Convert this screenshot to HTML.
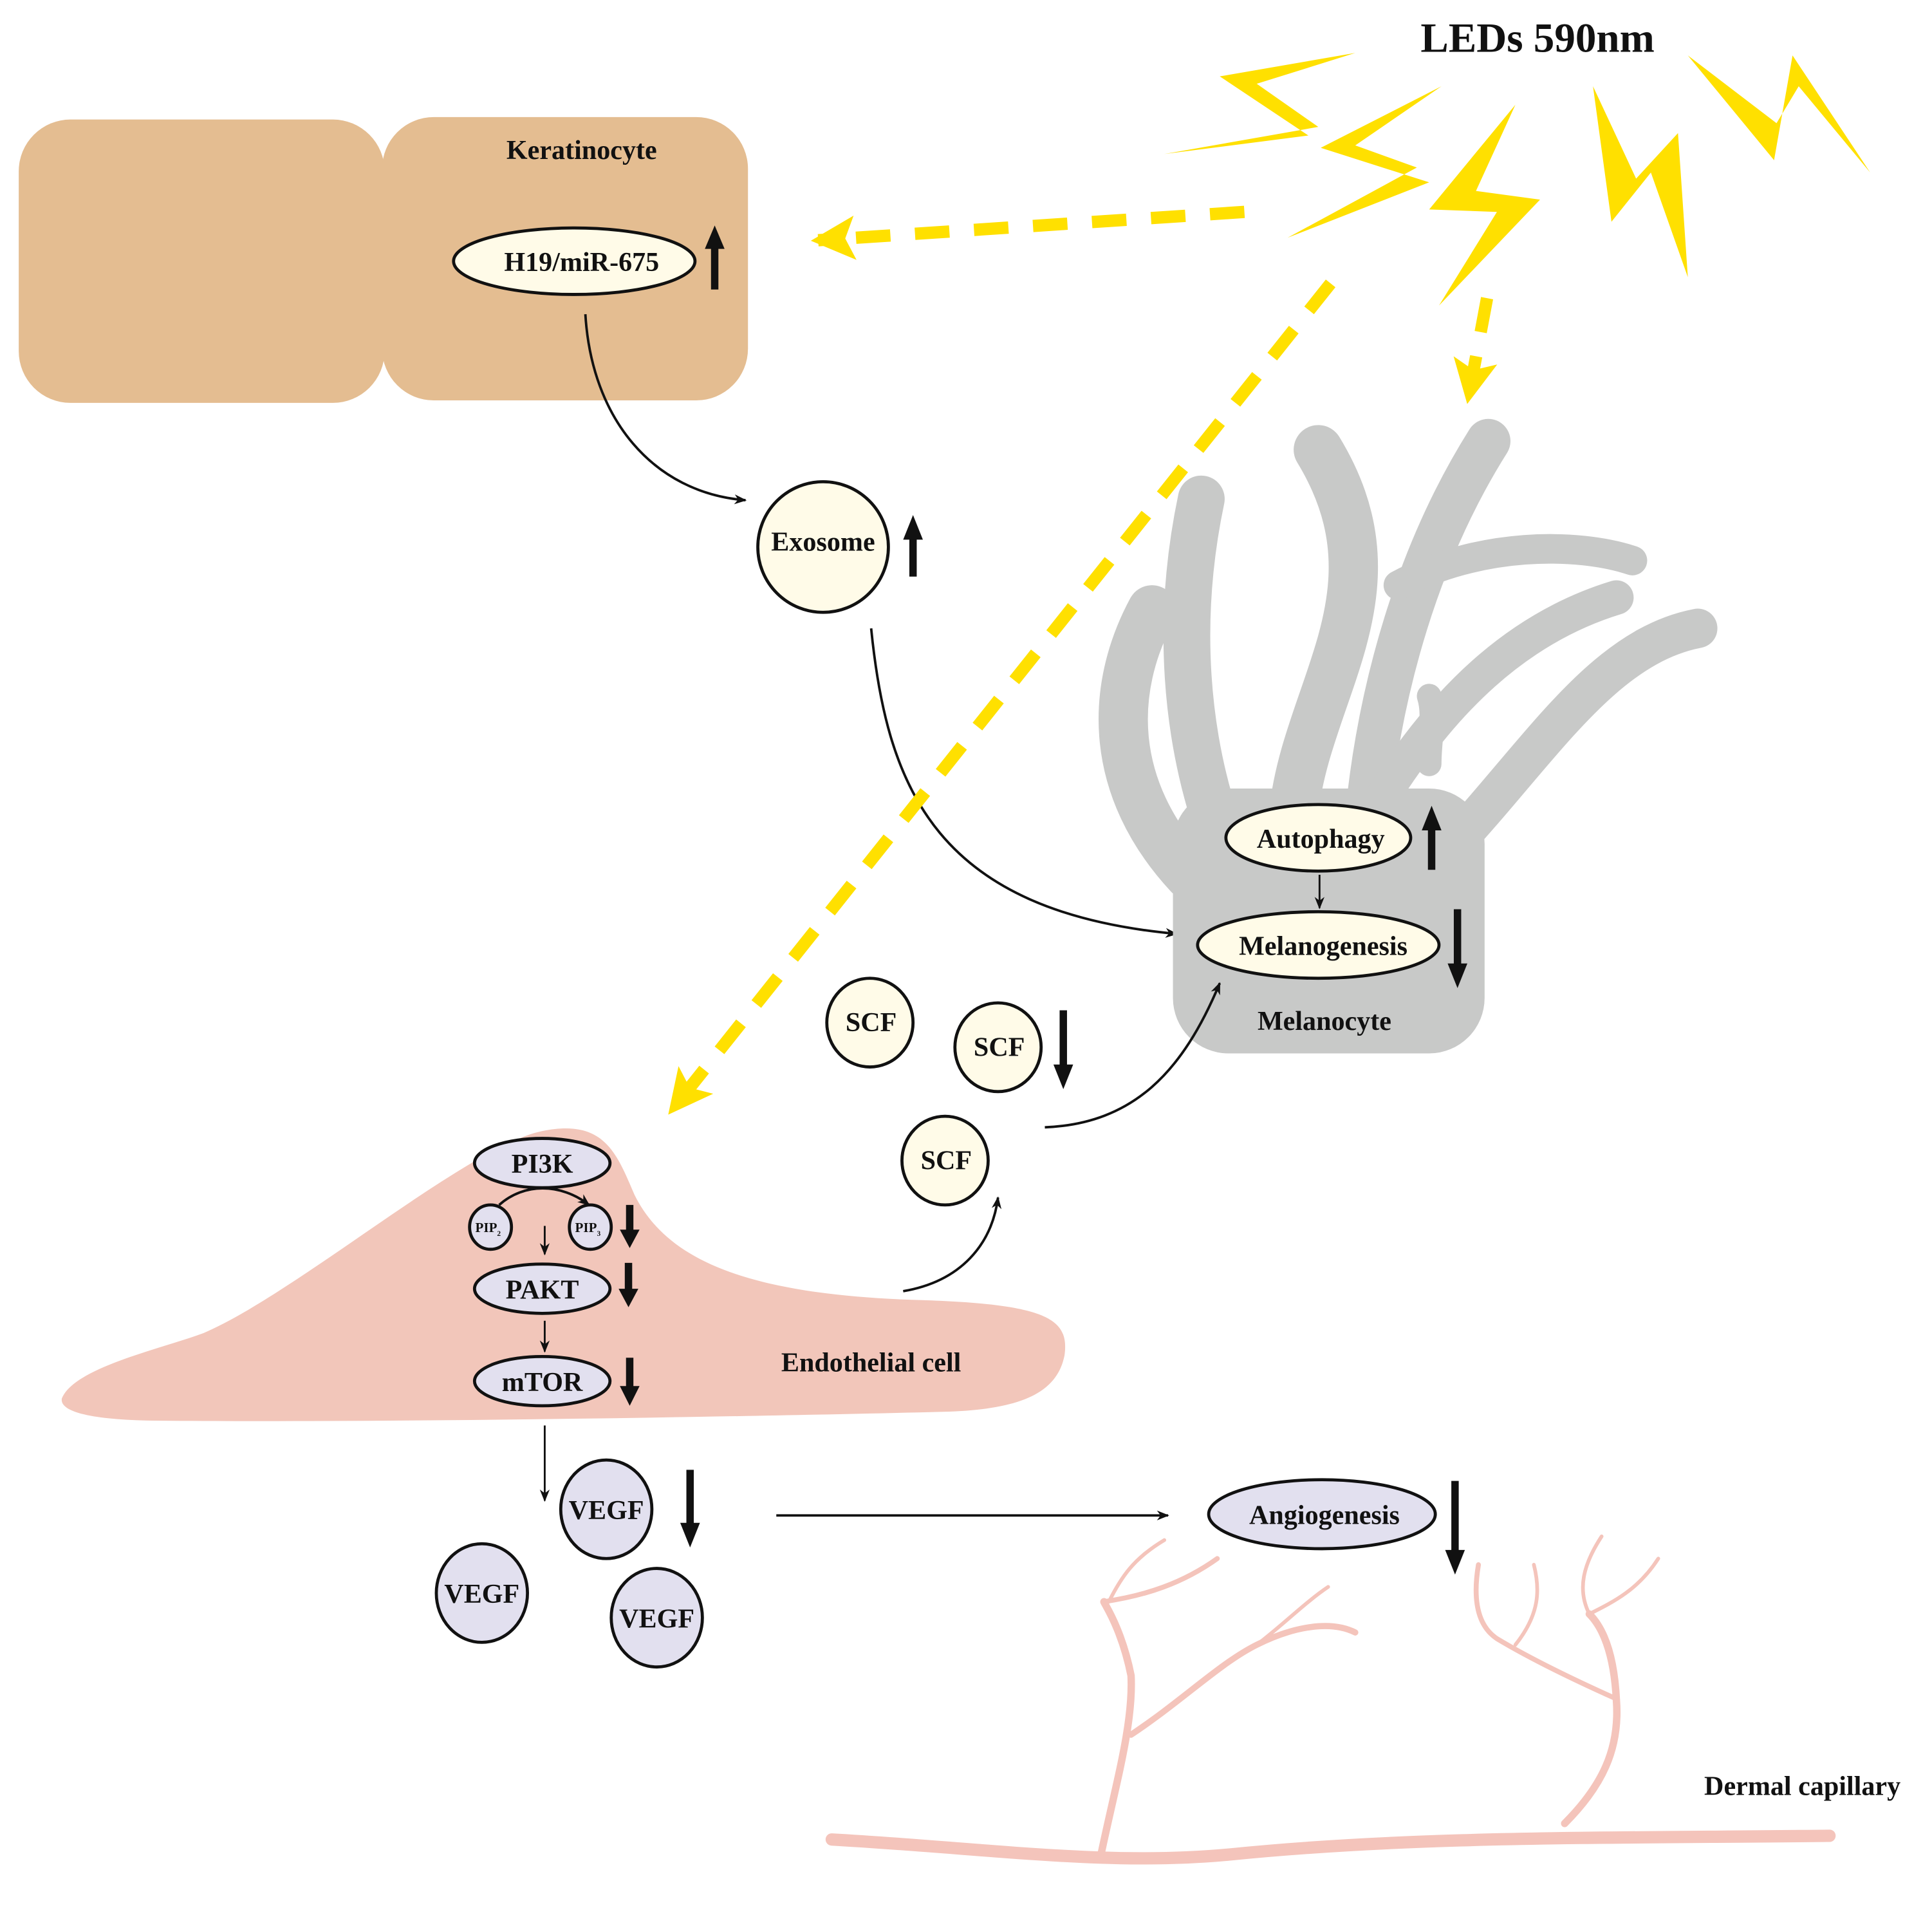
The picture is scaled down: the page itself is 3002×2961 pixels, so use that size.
<!DOCTYPE html>
<html><head><meta charset="utf-8"><style>
html,body{margin:0;padding:0;background:#fff}
svg{display:block}
text{font-family:"Liberation Serif",serif;font-weight:bold;fill:#111}
</style></head><body>
<svg width="3002" height="2961" viewBox="0 0 1568 1547" xmlns="http://www.w3.org/2000/svg">
<defs>
<marker id="a" markerWidth="10" markerHeight="10" refX="9" refY="5" orient="auto" markerUnits="userSpaceOnUse"><path d="M0,1 L10,5 L0,9 L3,5 Z" fill="#111"/></marker>
<marker id="y" markerWidth="36" markerHeight="36" refX="30" refY="18" orient="auto" markerUnits="userSpaceOnUse"><path d="M0,0 L36,18 L0,36 L8,18 Z" fill="#ffe000"/></marker>
</defs>
<rect x="15" y="97" width="297" height="230" rx="42" fill="#e4bd91"/>
<rect x="310" y="95" width="297" height="230" rx="42" fill="#e4bd91"/>
<text x="472" y="129" font-size="22" text-anchor="middle">Keratinocyte</text>
<ellipse cx="466" cy="212" rx="98" ry="27" fill="#fffbe8" stroke="#111" stroke-width="2.5"/>
<text x="472" y="220" font-size="22" text-anchor="middle">H19/miR-675</text>
<path d="M580,235 V200" stroke="#111" stroke-width="6"/><path d="M572,202 L580,183 L588,202 Z" fill="#111"/>
<path d="M475,255 C480,340 530,400 605,406" fill="none" stroke="#111" stroke-width="2" marker-end="url(#a)"/>
<circle cx="668" cy="444" r="53" fill="#fffbe8" stroke="#111" stroke-width="2.5"/>
<text x="668" y="447" font-size="22" text-anchor="middle">Exosome</text>
<path d="M741,468 V436" stroke="#111" stroke-width="6"/><path d="M733,438 L741,418 L749,438 Z" fill="#111"/>
<path d="M707,510 C720,640 760,740 955,758" fill="none" stroke="#111" stroke-width="2" marker-end="url(#a)"/>
<g stroke="#c8c9c8" fill="none" stroke-linecap="round">
<path d="M965,710 C900,640 900,560 935,495" stroke-width="40"/>
<path d="M995,690 C960,600 955,500 975,405" stroke-width="38"/>
<path d="M1050,660 C1060,560 1140,480 1070,365" stroke-width="40"/>
<path d="M1110,660 C1120,560 1150,450 1208,358" stroke-width="36"/>
<path d="M1135,475 C1200,440 1280,440 1325,455" stroke-width="24"/>
<path d="M1120,650 C1170,570 1230,510 1312,485" stroke-width="28"/>
<path d="M1160,620 C1160,600 1165,580 1160,565" stroke-width="20"/>
<path d="M1175,690 C1250,610 1300,525 1378,510" stroke-width="32"/>
</g>
<rect x="952" y="640" width="253" height="215" rx="45" fill="#c8c9c8"/>
<ellipse cx="1070" cy="680" rx="75" ry="27" fill="#fffbe8" stroke="#111" stroke-width="2.5"/>
<text x="1072" y="688" font-size="22" text-anchor="middle">Autophagy</text>
<path d="M1162,706 V672" stroke="#111" stroke-width="6"/><path d="M1154,674 L1162,654 L1170,674 Z" fill="#111"/>
<path d="M1071,710 V737" stroke="#111" stroke-width="1.5" marker-end="url(#a)"/>
<ellipse cx="1070" cy="767" rx="98" ry="27" fill="#fffbe8" stroke="#111" stroke-width="2.5"/>
<text x="1074" y="775" font-size="22" text-anchor="middle">Melanogenesis</text>
<path d="M1183,738 V784" stroke="#111" stroke-width="6"/><path d="M1175,782 L1183,802 L1191,782 Z" fill="#111"/>
<text x="1075" y="836" font-size="22" text-anchor="middle">Melanocyte</text>
<g fill="#fffbe8" stroke="#111" stroke-width="2.5">
<ellipse cx="706" cy="830" rx="35" ry="36"/><ellipse cx="810" cy="850" rx="35" ry="36"/><ellipse cx="767" cy="942" rx="35" ry="36"/></g>
<text x="707" y="837" font-size="22" text-anchor="middle">SCF</text>
<text x="811" y="857" font-size="22" text-anchor="middle">SCF</text>
<text x="768" y="949" font-size="22" text-anchor="middle">SCF</text>
<path d="M863,820 V866" stroke="#111" stroke-width="6"/><path d="M855,864 L863,884 L871,864 Z" fill="#111"/>
<path d="M848,915 C920,912 960,870 990,798" fill="none" stroke="#111" stroke-width="2" marker-end="url(#a)"/>
<path d="M50,1135 C60,1110 130,1095 165,1082 C240,1050 380,930 440,918 C490,908 500,935 515,970 C540,1020 600,1050 740,1055 C850,1058 868,1070 864,1100 C858,1130 830,1145 760,1146 C600,1150 300,1155 120,1153 C70,1152 48,1145 50,1135 Z" fill="#f2c6ba"/>
<path d="M733,1048 C780,1040 805,1010 810,972" fill="none" stroke="#111" stroke-width="2" marker-end="url(#a)"/>
<g fill="#e2e0ef" stroke="#111" stroke-width="2.5">
<ellipse cx="440" cy="944" rx="55" ry="20"/><ellipse cx="398" cy="996" rx="17" ry="18"/><ellipse cx="479" cy="996" rx="17" ry="18"/>
<ellipse cx="440" cy="1046" rx="55" ry="20"/><ellipse cx="440" cy="1121" rx="55" ry="20"/></g>
<text x="440" y="952" font-size="22" text-anchor="middle">PI3K</text>
<text x="440" y="1054" font-size="22" text-anchor="middle">PAKT</text>
<text x="440" y="1129" font-size="22" text-anchor="middle">mTOR</text>
<text x="396" y="1000" font-size="11" text-anchor="middle" font-weight="normal">PIP<tspan font-size="6" dy="3">2</tspan></text>
<text x="477" y="1000" font-size="11" text-anchor="middle" font-weight="normal">PIP<tspan font-size="6" dy="3">3</tspan></text>
<path d="M405,978 C425,960 455,960 478,978" fill="none" stroke="#111" stroke-width="2" marker-end="url(#a)"/>
<path d="M442,995 V1018" stroke="#111" stroke-width="1.5" marker-end="url(#a)"/>
<path d="M442,1072 V1097" stroke="#111" stroke-width="1.5" marker-end="url(#a)"/>
<g fill="#111"><path d="M511,978 V1000" stroke="#111" stroke-width="6"/><path d="M503,998 L511,1013 L519,998 Z"/>
<path d="M510,1025 V1048" stroke="#111" stroke-width="6"/><path d="M502,1046 L510,1061 L518,1046 Z"/>
<path d="M511,1102 V1127" stroke="#111" stroke-width="6"/><path d="M503,1125 L511,1141 L519,1125 Z"/></g>
<text x="707" y="1113" font-size="22" text-anchor="middle">Endothelial cell</text>
<path d="M442,1157 V1218" stroke="#111" stroke-width="1.5" marker-end="url(#a)"/>
<g fill="#e2e0ef" stroke="#111" stroke-width="2.5">
<ellipse cx="492" cy="1225" rx="37" ry="40"/><ellipse cx="391" cy="1293" rx="37" ry="40"/><ellipse cx="533" cy="1313" rx="37" ry="40"/></g>
<text x="492" y="1233" font-size="22" text-anchor="middle">VEGF</text>
<text x="391" y="1301" font-size="22" text-anchor="middle">VEGF</text>
<text x="533" y="1321" font-size="22" text-anchor="middle">VEGF</text>
<path d="M560,1193 V1238" stroke="#111" stroke-width="6"/><path d="M552,1236 L560,1256 L568,1236 Z" fill="#111"/>
<path d="M630,1230 H948" stroke="#111" stroke-width="2" marker-end="url(#a)"/>
<ellipse cx="1073" cy="1229" rx="92" ry="28" fill="#e2e0ef" stroke="#111" stroke-width="2.5"/>
<text x="1075" y="1237" font-size="22" text-anchor="middle">Angiogenesis</text>
<path d="M1181,1202 V1260" stroke="#111" stroke-width="6"/><path d="M1173,1258 L1181,1278 L1189,1258 Z" fill="#111"/>
<g stroke="#f4c4bb" fill="none" stroke-linecap="round">
<path d="M675,1493 C800,1500 900,1515 1000,1505 C1150,1490 1300,1492 1485,1490" stroke-width="10"/>
<path d="M893,1508 C905,1450 920,1400 918,1360 C910,1320 895,1300 896,1300" stroke-width="6"/>
<path d="M918,1408 C960,1380 990,1350 1020,1335 C1050,1320 1080,1315 1100,1325" stroke-width="5"/>
<path d="M1020,1335 C1040,1320 1060,1300 1078,1288" stroke-width="3"/>
<path d="M896,1300 C930,1295 960,1285 988,1265" stroke-width="4"/>
<path d="M900,1300 C910,1280 920,1265 945,1250" stroke-width="3"/>
<path d="M1270,1480 C1300,1450 1315,1420 1312,1380 C1310,1340 1300,1320 1290,1310" stroke-width="6"/>
<path d="M1310,1378 C1270,1360 1240,1345 1215,1330 C1200,1320 1195,1300 1200,1270" stroke-width="4"/>
<path d="M1290,1310 C1310,1300 1330,1290 1346,1265" stroke-width="3"/>
<path d="M1290,1310 C1280,1290 1285,1270 1300,1247" stroke-width="3"/>
<path d="M1230,1335 C1250,1310 1250,1290 1245,1270" stroke-width="3"/>
</g>
<text x="1463" y="1457" font-size="22" text-anchor="middle">Dermal capillary</text>
<text x="1248" y="42" font-size="34" text-anchor="middle">LEDs 590nm</text>
<g fill="#ffe000">
<polygon points="945,125 1062,110 990,62 1100,43 1020,68 1070,103"/>
<polygon points="1045,193 1160,148 1072,120 1170,70 1100,118 1150,136"/>
<polygon points="1168,248 1250,162 1198,155 1230,85 1160,170 1215,172"/>
<polygon points="1293,70 1308,180 1340,140 1370,225 1362,108 1328,145"/>
<polygon points="1370,45 1440,130 1455,45 1518,140 1460,70 1442,100"/>
</g>
<g stroke="#ffe000" stroke-width="10" fill="none" stroke-dasharray="28,20">
<path d="M1010,172 L664,195" marker-end="url(#y)"/>
<path d="M1080,230 L546,900" marker-end="url(#y)"/>
<path d="M1207,242 L1192,322" marker-end="url(#y)"/>
</g>
</svg>
</body></html>
